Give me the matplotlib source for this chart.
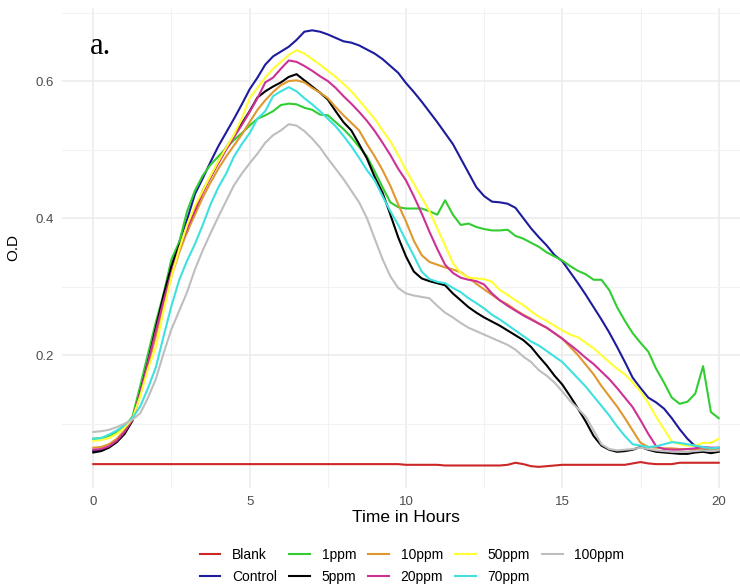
import matplotlib
matplotlib.use("Agg")
import matplotlib.pyplot as plt
import numpy as np

plt.rcParams['font.family'] = ['Liberation Sans', 'DejaVu Sans']

# sampling every 15 minutes
hours = [i * 0.25 for i in range(81)]

blank = [
    0.041, 0.041, 0.041, 0.041, 0.041, 0.041, 0.041, 0.041,
    0.041, 0.041, 0.041, 0.041, 0.041, 0.041, 0.041, 0.041,
    0.041, 0.041, 0.041, 0.041, 0.041, 0.041, 0.041, 0.041,
    0.041, 0.041, 0.041, 0.041, 0.041, 0.041, 0.041, 0.041,
    0.041, 0.041, 0.041, 0.041, 0.041, 0.041, 0.041, 0.041,
    0.040, 0.040, 0.040, 0.040, 0.040, 0.039, 0.039, 0.039,
    0.039, 0.039, 0.039, 0.039, 0.039, 0.040, 0.043, 0.041,
    0.038, 0.037, 0.038, 0.039, 0.040, 0.040, 0.040, 0.040,
    0.040, 0.040, 0.040, 0.040, 0.040, 0.042, 0.044, 0.042,
    0.041, 0.041, 0.041, 0.043, 0.043, 0.043, 0.043, 0.043,
    0.043,
]
control = [
    0.060, 0.061, 0.066, 0.075, 0.088, 0.107, 0.148, 0.195,
    0.240, 0.285, 0.330, 0.365, 0.398, 0.435, 0.458, 0.482,
    0.505, 0.525, 0.545, 0.566, 0.588, 0.605, 0.624, 0.636,
    0.643, 0.650, 0.660, 0.672, 0.674, 0.672, 0.668, 0.663,
    0.658, 0.656, 0.652, 0.646, 0.640, 0.632, 0.622, 0.612,
    0.597, 0.584, 0.570, 0.555, 0.540, 0.524, 0.508, 0.487,
    0.466, 0.445, 0.432, 0.424, 0.423, 0.421, 0.415, 0.400,
    0.385, 0.372, 0.360, 0.346, 0.337, 0.321, 0.305, 0.288,
    0.270, 0.252, 0.233, 0.212, 0.190, 0.167, 0.152, 0.138,
    0.131, 0.122, 0.108, 0.092, 0.078, 0.067, 0.063, 0.062,
    0.061,
]
ppm1 = [
    0.078, 0.079, 0.082, 0.088, 0.096, 0.110, 0.155, 0.202,
    0.248, 0.290, 0.340, 0.365, 0.410, 0.440, 0.462, 0.478,
    0.490, 0.502, 0.514, 0.524, 0.535, 0.545, 0.550, 0.556,
    0.565, 0.567, 0.566, 0.561, 0.558, 0.551, 0.550, 0.540,
    0.530, 0.518, 0.504, 0.490, 0.468, 0.445, 0.423, 0.416,
    0.414, 0.414, 0.414, 0.410, 0.405, 0.426, 0.405, 0.390,
    0.392, 0.387, 0.384, 0.382, 0.382, 0.383, 0.374, 0.370,
    0.364, 0.358, 0.350, 0.344, 0.338, 0.330, 0.323, 0.318,
    0.310, 0.310, 0.295, 0.270, 0.250, 0.232, 0.218, 0.205,
    0.180, 0.160, 0.138, 0.129, 0.132, 0.144, 0.184, 0.117,
    0.108,
]
ppm5 = [
    0.058, 0.060, 0.065, 0.073, 0.085, 0.104, 0.145, 0.190,
    0.240, 0.288, 0.330, 0.360, 0.380, 0.410, 0.440, 0.460,
    0.482, 0.503, 0.520, 0.538, 0.556, 0.576, 0.585, 0.592,
    0.598, 0.606, 0.610, 0.601, 0.592, 0.583, 0.573, 0.556,
    0.540, 0.528, 0.508, 0.487, 0.460, 0.437, 0.405, 0.372,
    0.344, 0.322, 0.312, 0.308, 0.305, 0.302, 0.290, 0.280,
    0.270, 0.262, 0.255, 0.249, 0.243, 0.236, 0.229, 0.222,
    0.212, 0.198, 0.185, 0.170, 0.157, 0.140, 0.122, 0.103,
    0.082, 0.068, 0.062, 0.059, 0.060, 0.062, 0.066, 0.062,
    0.059, 0.058, 0.057, 0.056, 0.056, 0.058, 0.059, 0.057,
    0.059,
]
ppm10 = [
    0.065, 0.066, 0.070, 0.078, 0.090, 0.106, 0.142, 0.185,
    0.228, 0.275, 0.315, 0.350, 0.380, 0.405, 0.430, 0.452,
    0.472, 0.490, 0.506, 0.522, 0.540, 0.558, 0.572, 0.584,
    0.594, 0.600, 0.601, 0.598, 0.590, 0.583, 0.575, 0.562,
    0.550, 0.539, 0.528, 0.508, 0.490, 0.470, 0.447, 0.420,
    0.395, 0.367, 0.346, 0.336, 0.332, 0.328, 0.325, 0.321,
    0.313, 0.304, 0.296, 0.288, 0.280, 0.274, 0.266, 0.259,
    0.253, 0.246, 0.240, 0.232, 0.224, 0.212, 0.200, 0.186,
    0.172, 0.155, 0.140, 0.125, 0.108, 0.090, 0.072, 0.066,
    0.065, 0.064, 0.064, 0.063, 0.063, 0.062, 0.064, 0.063,
    0.063,
]
ppm20 = [
    0.062, 0.063, 0.067, 0.075, 0.088, 0.106, 0.145, 0.190,
    0.235, 0.280, 0.320, 0.356, 0.385, 0.412, 0.437, 0.460,
    0.480, 0.500, 0.518, 0.536, 0.555, 0.575, 0.598, 0.605,
    0.618, 0.630, 0.628, 0.622, 0.615, 0.607, 0.600, 0.590,
    0.578, 0.567, 0.555, 0.542, 0.527, 0.510, 0.492, 0.472,
    0.455, 0.432, 0.407, 0.380, 0.355, 0.332, 0.320, 0.313,
    0.310, 0.308, 0.303, 0.290, 0.280, 0.272, 0.265, 0.258,
    0.252, 0.246, 0.240, 0.232, 0.224, 0.215, 0.206, 0.196,
    0.187, 0.176, 0.165, 0.152, 0.138, 0.124, 0.105, 0.085,
    0.067, 0.063, 0.062, 0.062, 0.063, 0.064, 0.066, 0.065,
    0.065,
]
ppm50 = [
    0.075, 0.076, 0.079, 0.085, 0.094, 0.107, 0.140, 0.180,
    0.212, 0.265, 0.315, 0.355, 0.390, 0.418, 0.440, 0.462,
    0.483, 0.503, 0.522, 0.545, 0.575, 0.590, 0.605, 0.618,
    0.628, 0.638, 0.645, 0.640, 0.632, 0.624, 0.615, 0.606,
    0.596, 0.585, 0.572, 0.558, 0.545, 0.528, 0.512, 0.492,
    0.470, 0.450, 0.430, 0.410, 0.385, 0.360, 0.334, 0.320,
    0.313, 0.312, 0.311, 0.307, 0.295, 0.288, 0.280, 0.273,
    0.264, 0.256, 0.250, 0.243, 0.236, 0.230, 0.226, 0.218,
    0.210, 0.200, 0.190, 0.180, 0.172, 0.160, 0.147, 0.130,
    0.110, 0.092, 0.074, 0.070, 0.068, 0.068, 0.072, 0.072,
    0.078,
]
ppm70 = [
    0.078, 0.079, 0.084, 0.090, 0.098, 0.108, 0.125, 0.152,
    0.182, 0.228, 0.272, 0.310, 0.338, 0.362, 0.390, 0.420,
    0.445, 0.465, 0.490, 0.508, 0.524, 0.545, 0.556, 0.578,
    0.585, 0.591, 0.585, 0.575, 0.566, 0.556, 0.545, 0.534,
    0.520, 0.505, 0.488, 0.470, 0.455, 0.432, 0.410, 0.390,
    0.367, 0.345, 0.322, 0.311, 0.307, 0.305, 0.298, 0.292,
    0.283, 0.276, 0.268, 0.259, 0.252, 0.244, 0.236, 0.228,
    0.220, 0.214, 0.206, 0.198, 0.190, 0.178, 0.166, 0.154,
    0.140, 0.126, 0.112, 0.096, 0.082, 0.070, 0.068, 0.066,
    0.067, 0.070, 0.073, 0.072, 0.070, 0.068, 0.066, 0.064,
    0.065,
]
ppm100 = [
    0.088, 0.089, 0.091, 0.095, 0.100, 0.106, 0.115, 0.138,
    0.165, 0.203, 0.238, 0.265, 0.292, 0.325, 0.353, 0.378,
    0.402, 0.425, 0.448, 0.465, 0.480, 0.494, 0.510, 0.521,
    0.528, 0.537, 0.535, 0.527, 0.516, 0.503, 0.487, 0.472,
    0.457, 0.440, 0.423, 0.400, 0.370, 0.340, 0.315, 0.298,
    0.290, 0.287, 0.285, 0.283, 0.272, 0.262, 0.255, 0.247,
    0.240, 0.235, 0.230, 0.225, 0.220, 0.215, 0.208, 0.198,
    0.190, 0.178, 0.170, 0.160, 0.147, 0.133, 0.122, 0.110,
    0.090, 0.070, 0.063, 0.061, 0.062, 0.063, 0.065, 0.063,
    0.061, 0.060, 0.059, 0.059, 0.059, 0.060, 0.061, 0.060,
    0.061,
]

labels = ['Blank', 'Control', '1ppm', '5ppm', '10ppm', '20ppm',
          '50ppm', '70ppm', '100ppm']
series = [blank, control, ppm1, ppm5, ppm10, ppm20, ppm50, ppm70, ppm100]
colors = ['#CD2626', '#1C1C9C', '#32CD32', '#000000', '#E0982E',
          '#CD3096', '#FFFF33', '#3EE0E0', '#BEBEBE']

fig = plt.figure(figsize=(7.4, 5.87), dpi=100)
ax = fig.add_axes([0.0838, 0.1687, 0.9297, 0.8177])

for y, lab, c in zip(series, labels, colors):
    ax.plot(hours, y, color=c, lw=1.5, label=lab)

ax.set_xlim(-1, 21)
ax.set_ylim(0.0062, 0.7066)
ax.set_xticks([0, 5, 10, 15, 20])
ax.set_xticks([2.5, 7.5, 12.5, 17.5], minor=True)
ax.set_yticks([0.2, 0.4, 0.6])
ax.set_yticklabels(['0.2', '0.4', '0.6'])
ax.set_yticks([0.1, 0.3, 0.5, 0.7], minor=True)
ax.grid(which='major', color='#EBEBEB', lw=1.1)
ax.grid(which='minor', color='#F2F2F2', lw=0.8)
ax.set_axisbelow(True)
for s in ax.spines.values():
    s.set_visible(False)
ax.tick_params(which='both', length=0)
ax.tick_params(labelsize=9.5, labelcolor='#4D4D4D', pad=6)

ax.set_xlabel('Time in Hours', fontsize=12.5, labelpad=1)
ax.set_ylabel('O.D', fontsize=11, labelpad=11)

ax.text(-0.12, 0.65, 'a.', fontsize=22, family='Liberation Serif',
        ha='left', va='center')

fig.legend(loc='center', bbox_to_anchor=(412 / 740, 1 - 566 / 587),
           ncol=5, frameon=False, fontsize=10, handlelength=1.5,
           handletextpad=0.85, columnspacing=0.85, labelspacing=0.6)

fig.savefig('out.png', dpi=100)
